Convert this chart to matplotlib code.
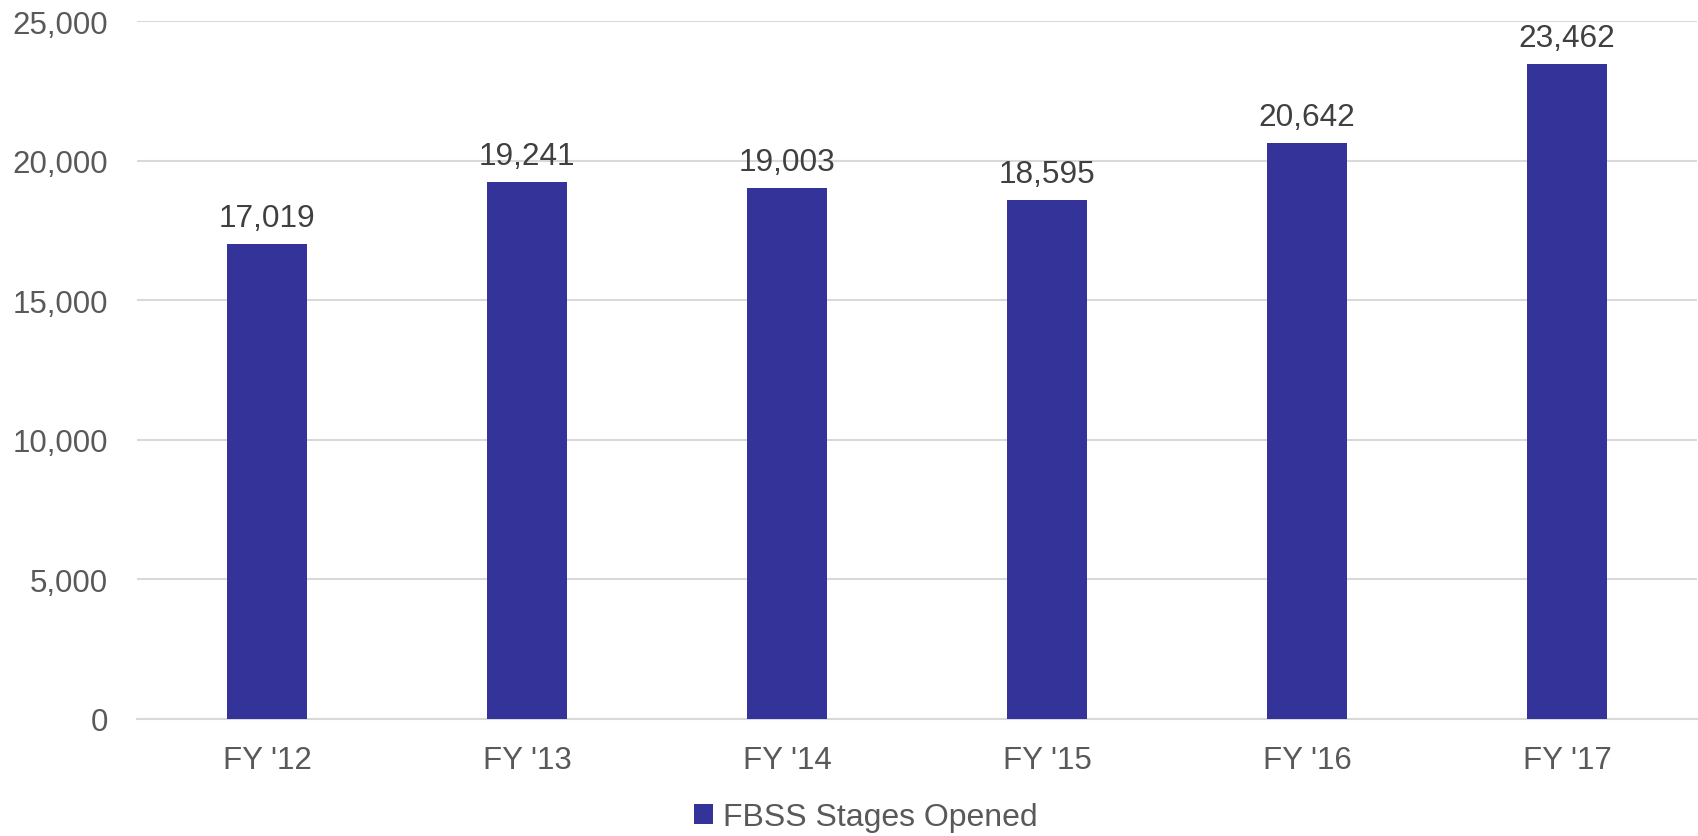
import matplotlib.pyplot as plt
import numpy as np

plt.rcParams['font.family'] = ['Liberation Sans', 'DejaVu Sans']

years = ["FY '12", "FY '13", "FY '14", "FY '15", "FY '16", "FY '17"]
stages_opened = [17019, 19241, 19003, 18595, 20642, 23462]
y_ticks = [0, 5000, 10000, 15000, 20000, 25000]

bar_color = '#333399'
text_gray = '#595959'

fig = plt.figure(figsize=(16.98, 8.37), dpi=100)
ax = fig.add_axes([137/1698, 1 - 720/837, 1560/1698, 698/837])

x = np.arange(len(years))
bars = ax.bar(x, stages_opened, width=0.31, color=bar_color, label='FBSS Stages Opened', zorder=3)

for b, v in zip(bars, stages_opened):
    ax.annotate(format(v, ','), (b.get_x() + b.get_width()/2, v),
                xytext=(0, 13), textcoords='offset points',
                ha='center', va='baseline', fontsize=22.8, color='#404040')

ax.set_xlim(-0.5, len(years) - 0.5)
ax.set_ylim(0, 25000)
ax.set_yticks(y_ticks)
ax.set_yticklabels([format(t, ',') for t in y_ticks])
ax.set_xticks(x)
ax.set_xticklabels(years)
ax.tick_params(axis='both', length=0, labelcolor=text_gray, labelsize=22.5)
ax.tick_params(axis='y', pad=21)
ax.tick_params(axis='x', pad=19)

ax.grid(axis='y', color='#d9d9d9', linewidth=1.5, zorder=0)
for s in ['top', 'right', 'left']:
    ax.spines[s].set_visible(False)
ax.spines['bottom'].set_color('#d9d9d9')
ax.spines['bottom'].set_linewidth(1.5)

leg = fig.legend(loc='center', bbox_to_anchor=(0.51, 1 - 818/837), frameon=False,
                 fontsize=23, handlelength=0.6, handleheight=0.6, handletextpad=0.3)
for t in leg.get_texts():
    t.set_color(text_gray)

fig.savefig('out.png', dpi=100)
